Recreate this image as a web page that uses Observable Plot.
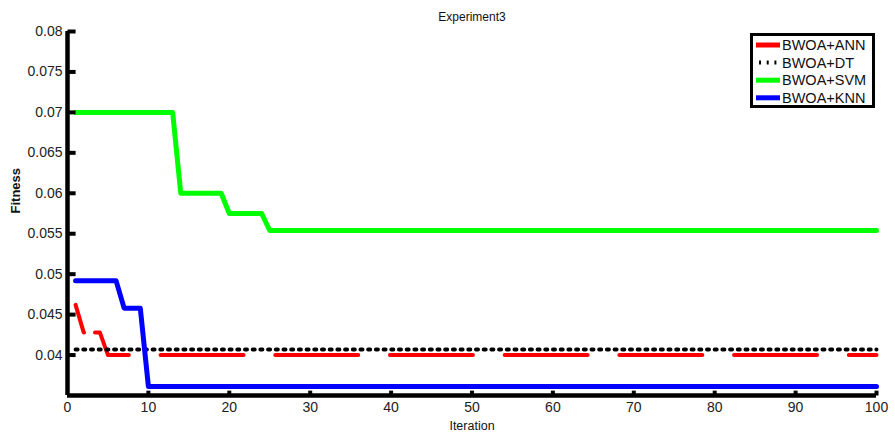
<!DOCTYPE html>
<html>
<head>
<meta charset="utf-8">
<script src="https://cdn.jsdelivr.net/npm/d3@7"></script>
<script src="https://cdn.jsdelivr.net/npm/@observablehq/plot@0.6"></script>
<style>
  html, body { margin: 0; padding: 0; background: #fff; }
  #wrap { position: relative; width: 895px; height: 432px; font-family: "Liberation Sans", Arial, sans-serif; }
  #legend { position: absolute; left: 750px; top: 33px; }
</style>
</head>
<body>
<div id="wrap"></div>
<script>
// ---- data ----
const title = "Experiment3";
const xLabel = "Iteration";
const yLabel = "Fitness";

const seriesNames = ["BWOA+ANN", "BWOA+DT", "BWOA+SVM", "BWOA+KNN"];
const seriesColors = ["#ff0000", "#000000", "#00ff00", "#0000ff"];

// breakpoints of each (piecewise-linear) curve
const annIter = [1, 2, 4, 5, 100];
const annFit  = [0.0462, 0.0428, 0.0428, 0.0400, 0.0400];

const dtIter = [1, 100];
const dtFit  = [0.0407, 0.0407];

const svmIter = [1, 13, 14, 19, 20, 24, 25, 100];
const svmFit  = [0.0700, 0.0700, 0.0600, 0.0600, 0.0575, 0.0575, 0.0554, 0.0554];

const knnIter = [1, 6, 7, 9, 10, 100];
const knnFit  = [0.0492, 0.0492, 0.0458, 0.0458, 0.0361, 0.0361];

const xTicks = [0, 10, 20, 30, 40, 50, 60, 70, 80, 90, 100];
const yTicks = [0.035, 0.04, 0.045, 0.05, 0.055, 0.06, 0.065, 0.07, 0.075, 0.08];
const yTickLabels = ["", "0.04", "0.045", "0.05", "0.055", "0.06", "0.065", "0.07", "0.075", "0.08"];

// ---- build tables ----
const toRows = (xs, ys) => xs.map((x, i) => ({x, y: ys[i]}));
const ann = toRows(annIter, annFit);
const dt  = toRows(dtIter, dtFit);
const svm = toRows(svmIter, svmFit);
const knn = toRows(knnIter, knnFit);

const xMin = 0, xMax = 100, yMin = 0.035, yMax = 0.08;

const font = "'Liberation Sans', Arial, sans-serif";

// dash style of the ANN curve (irregular start, then long dashes)
const annDash = [29, 11, 49.8, 31.7].concat(Array(8).fill("83,31.7")).join(",");

const chart = Plot.plot({
  width: 895,
  height: 432,
  marginLeft: 67,
  marginRight: 19,
  marginTop: 31,
  marginBottom: 37,
  style: {fontFamily: font, background: "#fff", overflow: "visible"},
  x: {domain: [xMin, xMax]},
  y: {domain: [yMin, yMax]},
  marks: [
    // data lines
    Plot.line(svm, {x: "x", y: "y", stroke: seriesColors[2], strokeWidth: 5, strokeLinejoin: "round"}),
    Plot.line(ann, {x: "x", y: "y", stroke: seriesColors[0], strokeWidth: 4, strokeDasharray: annDash}),
    Plot.line(dt, {x: "x", y: "y", stroke: seriesColors[1], strokeWidth: 4, strokeDasharray: "2,5.7"}),
    Plot.line(knn, {x: "x", y: "y", stroke: seriesColors[3], strokeWidth: 5, strokeLinejoin: "round"}),
    // axis lines
    Plot.ruleX([xMin], {y1: yMin, y2: yMax, stroke: "#000", strokeWidth: 4.5}),
    Plot.ruleY([yMin], {x1: xMin, x2: xMax, stroke: "#000", strokeWidth: 4.5}),
    // inward ticks
    Plot.link(yTicks.slice(1), {x1: xMin, x2: 1, y1: d => d, y2: d => d, stroke: "#000", strokeWidth: 4}),
    Plot.link(xTicks.slice(1), {x1: d => d, x2: d => d, y1: yMin, y2: yMin + 0.0006, stroke: "#000", strokeWidth: 4}),
    // tick labels
    Plot.axisY({ticks: yTicks, tickSize: 0, tickPadding: 5, tickFormat: (d, i) => yTickLabels[i], fontSize: 14, color: "#222", label: null}),
    Plot.axisX({ticks: xTicks, tickSize: 0, tickPadding: 7, tickFormat: d => String(d), fontSize: 14, color: "#222", label: null}),
    // title and axis labels
    Plot.text([title], {frameAnchor: "top", dy: -19, fontSize: 12, fill: "#111", text: d => d}),
    Plot.text([xLabel], {frameAnchor: "bottom", lineAnchor: "middle", dy: 30, fontSize: 12.5, fill: "#111", text: d => d}),
    Plot.text([yLabel], {frameAnchor: "left", dx: -52, rotate: -90, fontSize: 13, fontWeight: 600, fill: "#111", text: d => d})
  ]
});

const wrap = document.getElementById("wrap");
wrap.appendChild(chart);

// ---- legend ----
const ns = "http://www.w3.org/2000/svg";
const lg = document.createElementNS(ns, "svg");
lg.setAttribute("width", 126);
lg.setAttribute("height", 76);
lg.setAttribute("id", "legend");
const box = document.createElementNS(ns, "rect");
box.setAttribute("x", 1.5); box.setAttribute("y", 1.5);
box.setAttribute("width", 122); box.setAttribute("height", 72);
box.setAttribute("fill", "#fff"); box.setAttribute("stroke", "#000"); box.setAttribute("stroke-width", 3);
lg.appendChild(box);
seriesNames.forEach((name, i) => {
  const cy = 12 + i * 17.6;
  const ln = document.createElementNS(ns, "line");
  ln.setAttribute("x1", 6); ln.setAttribute("x2", 30);
  ln.setAttribute("y1", cy); ln.setAttribute("y2", cy);
  ln.setAttribute("stroke", seriesColors[i]);
  if (i === 1) { ln.setAttribute("stroke-width", 4); ln.setAttribute("stroke-dasharray", "2,5.7"); ln.setAttribute("x1", 9); }
  else ln.setAttribute("stroke-width", 5);
  lg.appendChild(ln);
  const tx = document.createElementNS(ns, "text");
  tx.setAttribute("x", 32); tx.setAttribute("y", cy + 5);
  tx.setAttribute("font-family", font);
  tx.setAttribute("font-size", 14.5);
  tx.setAttribute("fill", "#111");
  tx.textContent = name;
  lg.appendChild(tx);
});
wrap.appendChild(lg);
</script>
</body>
</html>
